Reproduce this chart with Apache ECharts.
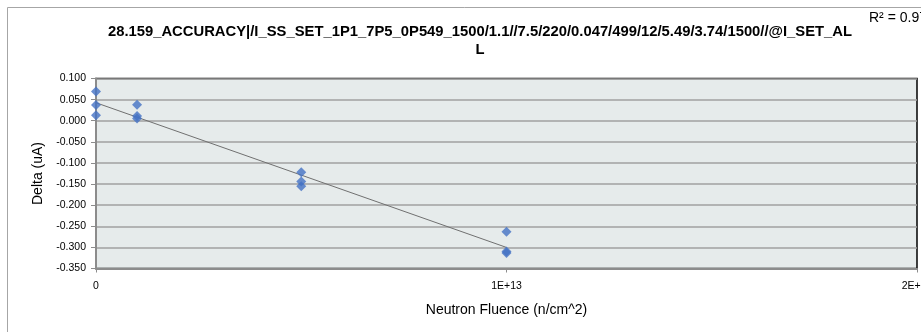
<!DOCTYPE html>
<html>
<head>
<meta charset="utf-8">
<script src="https://cdn.jsdelivr.net/npm/echarts@6/dist/echarts.min.js"></script>
<style>html,body{margin:0;padding:0;background:#fff}#c{width:921px;height:332px}</style>
</head>
<body>
<div id="c"></div>
<script>
const titleText = "28.159_ACCURACY|/I_SS_SET_1P1_7P5_0P549_1500/1.1//7.5/220/0.047/499/12/5.49/3.74/1500//@I_SET_AL\nL";
const xAxisName = "Neutron Fluence (n/cm^2)";
const yAxisName = "Delta (uA)";
const fluence = [0, 0, 0, 1e12, 1e12, 1e12, 5e12, 5e12, 5e12, 1e13, 1e13, 1e13];
const delta = [0.069, 0.037, 0.013, 0.038, 0.011, 0.005, -0.122, -0.144, -0.155, -0.263, -0.310, -0.313];
const xTickLabels = {0: "0", 1e13: "1E+13", 2e13: "2E+13"};

// linear least-squares fit (trendline) from the data
const n = fluence.length;
const mx = fluence.reduce((a, b) => a + b, 0) / n;
const my = delta.reduce((a, b) => a + b, 0) / n;
let sxy = 0, sxx = 0, syy = 0;
for (let i = 0; i < n; i++) {
  sxy += (fluence[i] - mx) * (delta[i] - my);
  sxx += (fluence[i] - mx) ** 2;
  syy += (delta[i] - my) ** 2;
}
const slope = sxy / sxx, intercept = my - slope * mx;
const r2 = (sxy * sxy) / (sxx * syy);
const xMin = Math.min(...fluence), xMax = Math.max(...fluence);

const chart = echarts.init(document.getElementById('c'));
chart.setOption({
  animation: false,
  backgroundColor: '#fff',
  title: {
    text: titleText,
    left: 475, top: 18, textAlign: 'center',
    textStyle: {fontFamily: 'Liberation Sans', fontSize: 14.8, fontWeight: 'bold', color: '#000', lineHeight: 18}
  },
  graphic: [
    {type: 'polyline', shape: {points: [[7.5, 340], [7.5, 7.5], [930, 7.5]]}, style: {stroke: '#a6a6a6', lineWidth: 1, fill: null}, silent: true},
    {type: 'text', left: 869, top: 11, style: {text: 'R² = ' + r2.toFixed(4), fontFamily: 'Liberation Sans', fontSize: 14, fill: '#000'}}
  ],
  grid: {left: 96, right: 4, top: 78.5, bottom: 63.5, outerBoundsMode: 'none', containLabel: false, show: true, backgroundColor: '#e6ebeb', borderColor: '#000', borderWidth: 1.5},
  xAxis: {
    type: 'value', min: 0, max: 2e13, interval: 1e13,
    name: xAxisName, nameLocation: 'middle', nameGap: 35,
    nameTextStyle: {fontFamily: 'Liberation Sans', fontSize: 14, color: '#000'},
    axisLine: {show: true, onZero: false, lineStyle: {color: '#8c8c8c', width: 2}},
    axisTick: {show: true, length: 4, lineStyle: {color: '#8c8c8c'}},
    axisLabel: {formatter: v => xTickLabels[v] !== undefined ? xTickLabels[v] : '', fontFamily: 'Liberation Sans', fontSize: 10.5, color: '#000', margin: 12, hideOverlap: false},
    splitLine: {show: false}
  },
  yAxis: {
    type: 'value', min: -0.35, max: 0.1, interval: 0.05,
    name: yAxisName, nameLocation: 'middle', nameGap: 50,
    nameTextStyle: {fontFamily: 'Liberation Sans', fontSize: 14, color: '#000'},
    axisLine: {show: true, onZero: false, lineStyle: {color: '#8c8c8c', width: 2}},
    axisTick: {show: true, length: 5, lineStyle: {color: '#8c8c8c'}},
    axisLabel: {formatter: v => v.toFixed(3), fontFamily: 'Liberation Sans', fontSize: 10.5, color: '#000', margin: 10},
    splitLine: {show: true, lineStyle: {color: '#a0a0a0', width: 1.5}}
  },
  series: [
    {
      type: 'line', silent: true, symbol: 'none', z: 2,
      data: [[xMin, intercept + slope * xMin], [xMax, intercept + slope * xMax]],
      lineStyle: {color: '#707070', width: 1}
    },
    {
      type: 'scatter', symbol: 'diamond', symbolSize: 10, z: 3,
      data: fluence.map((x, i) => [x, delta[i]]),
      itemStyle: {color: '#4472c4'}
    }
  ]
});
</script>
</body>
</html>
